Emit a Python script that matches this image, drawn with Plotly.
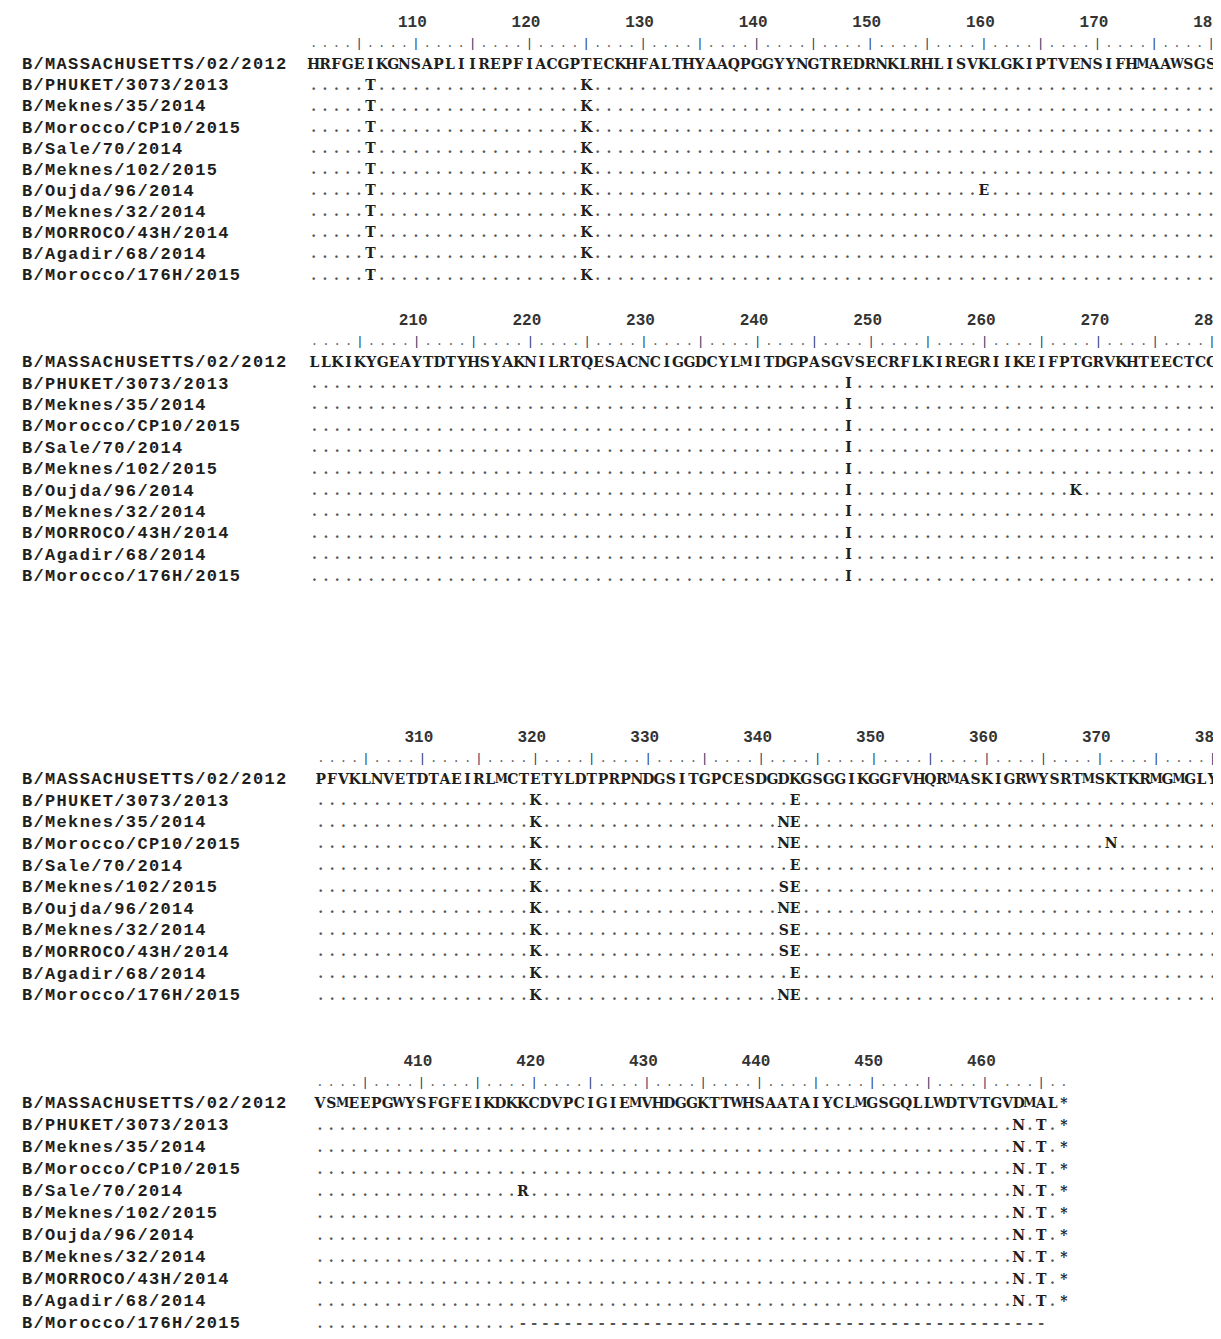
import plotly.graph_objects as go

# ---------------- data ----------------
strains = [
    "B/MASSACHUSETTS/02/2012", "B/PHUKET/3073/2013", "B/Meknes/35/2014",
    "B/Morocco/CP10/2015", "B/Sale/70/2014", "B/Meknes/102/2015",
    "B/Oujda/96/2014", "B/Meknes/32/2014", "B/MORROCO/43H/2014",
    "B/Agadir/68/2014", "B/Morocco/176H/2015",
]
block_first = [101, 201, 301, 401]
block_last = [180, 280, 381, 467]
ref_segments = [
    "HRFGEIKGNSAPLIIREPFIACGPTECKHFALTHYAAQPGGYYNGTREDRNKLRHLISVKLGKIPTVENSIFHMAAWSGS",
    "LLKIKYGEAYTDTYHSYAKNILRTQESACNCIGGDCYLMITDGPASGVSECRFLKIREGRIIKEIFPTGRVKHTEECTCG",
    "PFVKLNVETDTAEIRLMCTETYLDTPRPNDGSITGPCESDGDKGSGGIKGGFVHQRMASKIGRWYSRTMSKTKRMGMGLYV",
    "VSMEEPGWYSFGFEIKDKKCDVPCIGIEMVHDGGKTTWHSAATAIYCLMGSGQLLWDTVTGVDMAL*",
]
# substitutions shared by all strains except the reference
common_subs = [(106, "T"), (125, "K"), (248, "I"), (320, "K"), (463, "N"), (465, "T"), (467, "*")]
# strain-specific substitutions: strain index -> [(position, residue)]
strain_subs = {
    1: [(343, "E")],
    2: [(342, "N"), (343, "E")],
    3: [(342, "N"), (343, "E"), (371, "N")],
    4: [(343, "E"), (419, "R")],
    5: [(342, "S"), (343, "E")],
    6: [(160, "E"), (268, "K"), (342, "N"), (343, "E")],
    7: [(342, "S"), (343, "E")],
    8: [(342, "S"), (343, "E")],
    9: [(343, "E")],
    10: [(342, "N"), (343, "E")],
}
# gapped (truncated) region and sequence end: strain index -> (gap from, gap to)
strain_gaps = {10: (419, 465)}

# ---------------- layout constants ----------------
W, H = 1221, 1339
blk_x0 = [305.6, 306.5, 312.8, 312.0]
blk_pitch = [11.36, 11.36, 11.29, 11.27]
blk_ref_y = [57, 355, 772, 1096]
blk_row_dy = [21.1, 21.4, 21.6, 22.0]
name_x0, name_pitch = 19.0, 11.55
MONO = "Liberation Mono, Courier New, monospace"
SERIF = "DejaVu Serif, serif"
TXT = "#1e1e1e"
TICK = "#283a66"

fig = go.Figure()


def add_text(xs, ys, ts, size, color, family=MONO, bold=True):
    fig.add_trace(go.Scatter(
        x=xs, y=ys, text=ts, mode="text", textposition="middle center",
        textfont=dict(family=family, size=size, color=color,
                      weight="bold" if bold else "normal"),
        hoverinfo="skip", showlegend=False, cliponaxis=True,
    ))


for b in range(4):
    first, last = block_first[b], block_last[b]
    x0, pitch = blk_x0[b], blk_pitch[b]
    ry, dy = blk_ref_y[b], blk_row_dy[b]
    positions = list(range(first, last + 1))
    xs = [x0 + (p - first) * pitch for p in positions]

    # position numbers
    nums = [p for p in positions if p % 10 == 0]
    add_text([x0 + (p - first) * pitch - 3.5 for p in nums], [ry - 42] * len(nums),
             [str(p) for p in nums], 16, "#333333")

    # ruler
    rtxt = ["|" if p % 5 == 0 else "." for p in positions]
    rcol = [TICK if t == "|" else "#666666" for t in rtxt]
    add_text(xs, [ry - 21] * len(xs), rtxt, 13, rcol, bold=False)

    for i, name in enumerate(strains):
        y = ry + i * dy
        # strain name, one character per monospace cell
        add_text([name_x0 + k * name_pitch for k in range(len(name))], [y] * len(name),
                 list(name), 17, TXT)
        if i == 0:
            row = list(ref_segments[b])
        else:
            subs = dict(common_subs)
            subs.update(dict(strain_subs.get(i, [])))
            g = strain_gaps.get(i)
            row = []
            for p in positions:
                if g and g[0] <= p <= g[1]:
                    row.append("-")
                elif g and p > g[1]:
                    row.append(" ")
                elif p in subs:
                    row.append(subs[p])
                else:
                    row.append(".")
        cols = [TXT if c not in ".-" else "#555555" for c in row]
        sizes = [12 if c in "MW" else 14 for c in row]
        add_text(xs, [y] * len(xs), row, sizes, cols, family=SERIF)

# white-out the cropped right edge of the first two blocks
fig.add_shape(type="rect", x0=1209, x1=W + 5, y0=0, y1=640, fillcolor="white",
              line=dict(width=0), layer="above")
fig.add_shape(type="rect", x0=1217, x1=W + 5, y0=700, y1=1020, fillcolor="white",
              line=dict(width=0), layer="above")

fig.update_layout(
    width=W, height=H, autosize=False,
    margin=dict(l=0, r=0, t=0, b=0),
    paper_bgcolor="white", plot_bgcolor="white",
    xaxis=dict(range=[0, W], visible=False, fixedrange=True),
    yaxis=dict(range=[H, 0], visible=False, fixedrange=True),
)
fig.write_html("out.html")
